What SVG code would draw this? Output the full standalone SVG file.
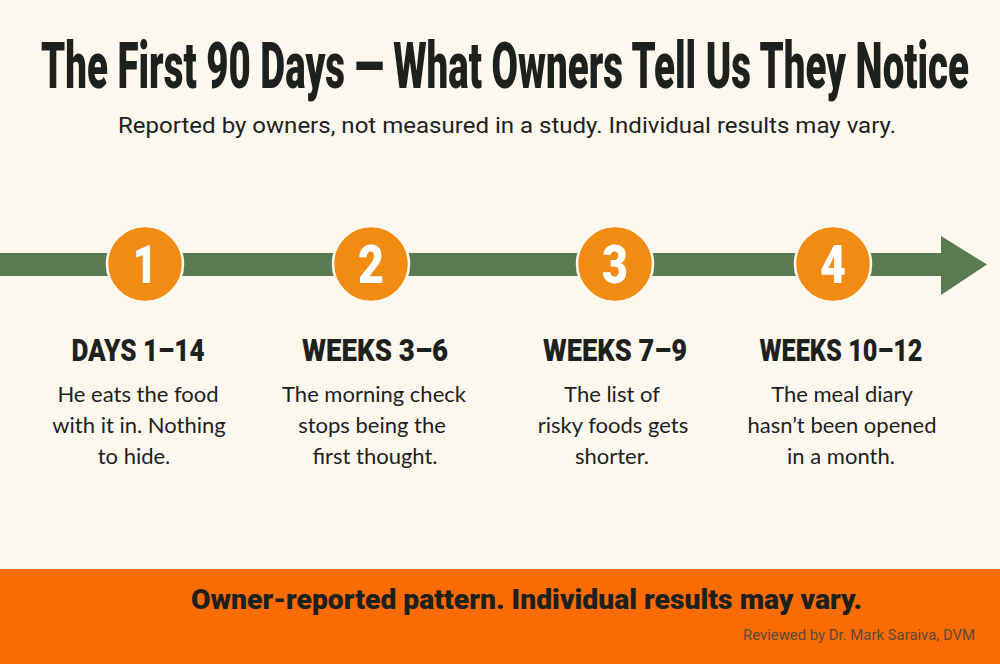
<svg xmlns="http://www.w3.org/2000/svg" width="1000" height="664" viewBox="0 0 1000 664">
<style>
.title{font-family:Roboto,"Liberation Sans",sans-serif;font-weight:900;fill:#1d211e}
.sub{font-family:Roboto,"Liberation Sans",sans-serif;font-size:22px;fill:#1d211e}
.num{font-family:Roboto,"Liberation Sans",sans-serif;font-weight:900;font-size:54px;fill:#fff;text-anchor:middle}
.head{font-family:Roboto,"Liberation Sans",sans-serif;font-weight:900;font-size:32px;fill:#1d211e;text-anchor:middle}
.body{font-family:Lato,"Noto Sans",sans-serif;font-size:22px;fill:#1d211e;text-anchor:middle}
.circ{fill:#f28b12;stroke:#fdf8ee;stroke-width:2.5}
.foot{font-family:Roboto,"Liberation Sans",sans-serif;font-weight:900;font-size:27px;fill:#1d211e}
.rev{font-family:Roboto,"Liberation Sans",sans-serif;font-size:14px;fill:#5b4a3c}
</style>
<rect x="0" y="0" width="1000" height="664" fill="#fdf8ee"/>
<g id="header">
<text class="title" x="41" y="88" font-size="64" textLength="928" lengthAdjust="spacingAndGlyphs">The First 90 Days — What Owners Tell Us They Notice</text>
<text class="sub" x="118" y="133" textLength="778" lengthAdjust="spacingAndGlyphs">Reported by owners, not measured in a study. Individual results may vary.</text>
</g>
<g id="connectors">
<rect x="0" y="253" width="942" height="23" fill="#5a7a52"/>
<polygon points="941,236 987,264.5 941,295" fill="#5a7a52"/>
</g>
<g id="step1">
<circle class="circ" cx="145" cy="264" r="38"/>
<text class="num" x="145" y="283" textLength="24" lengthAdjust="spacingAndGlyphs">1</text>
<text class="head" x="138" y="361" textLength="133" lengthAdjust="spacingAndGlyphs">DAYS 1–14</text>
<text class="body" x="138" y="402">He eats the food</text>
<text class="body" x="139" y="433">with it in. Nothing</text>
<text class="body" x="134" y="464">to hide.</text>
</g>
<g id="step2">
<circle class="circ" cx="371" cy="264" r="38"/>
<text class="num" x="371" y="283" textLength="26" lengthAdjust="spacingAndGlyphs">2</text>
<text class="head" x="375" y="361" textLength="146" lengthAdjust="spacingAndGlyphs">WEEKS 3–6</text>
<text class="body" x="374" y="402">The morning check</text>
<text class="body" x="372" y="433">stops being the</text>
<text class="body" x="375" y="464">first thought.</text>
</g>
<g id="step3">
<circle class="circ" cx="615" cy="264" r="38"/>
<text class="num" x="615" y="283" textLength="26" lengthAdjust="spacingAndGlyphs">3</text>
<text class="head" x="615" y="361" textLength="144" lengthAdjust="spacingAndGlyphs">WEEKS 7–9</text>
<text class="body" x="612" y="402">The list of</text>
<text class="body" x="613" y="433">risky foods gets</text>
<text class="body" x="612" y="464">shorter.</text>
</g>
<g id="step4">
<circle class="circ" cx="833" cy="264" r="38"/>
<text class="num" x="833" y="283" textLength="26" lengthAdjust="spacingAndGlyphs">4</text>
<text class="head" x="841" y="361" textLength="163" lengthAdjust="spacingAndGlyphs">WEEKS 10–12</text>
<text class="body" x="842" y="402">The meal diary</text>
<text class="body" x="842" y="433">hasn’t been opened</text>
<text class="body" x="841" y="464">in a month.</text>
</g>
<g id="footer">
<rect x="0" y="569" width="1000" height="95" fill="#fa6b02"/>
<text class="foot" x="191" y="609" textLength="671" lengthAdjust="spacingAndGlyphs">Owner-reported pattern. Individual results may vary.</text>
<text class="rev" x="975" y="640" text-anchor="end" textLength="232" lengthAdjust="spacingAndGlyphs">Reviewed by Dr. Mark Saraiva, DVM</text>
</g>
</svg>
